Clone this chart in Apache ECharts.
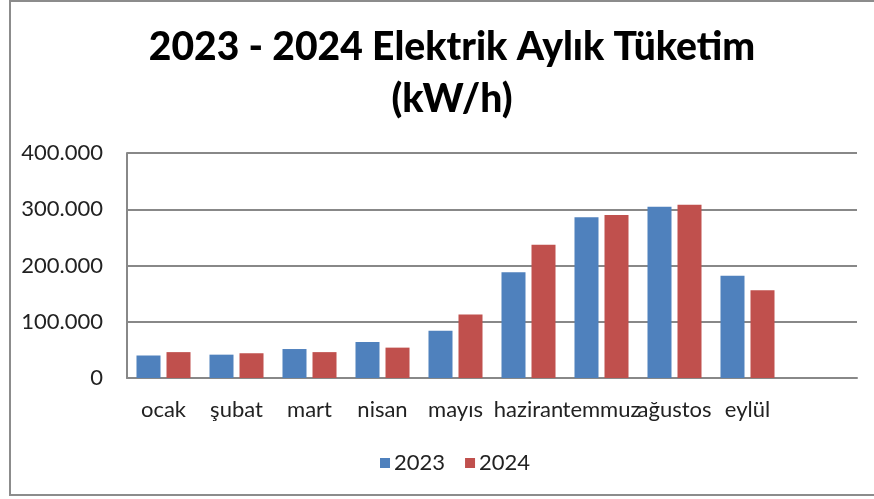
<!DOCTYPE html>
<html>
<head>
<meta charset="utf-8">
<script src="https://cdn.jsdelivr.net/npm/echarts@6/dist/echarts.min.js"></script>
<style>html,body{margin:0;padding:0;background:#fff}#c{width:874px;height:499px}</style>
</head>
<body>
<div id="c"></div>
<script>
const categories = ['ocak','şubat','mart','nisan','mayıs','haziran','temmuz','ağustos','eylül',''];
const values2023 = [40000, 41500, 51500, 64000, 84000, 188000, 286000, 304500, 182000, null];
const values2024 = [46000, 44000, 46000, 54000, 113000, 237000, 290000, 308000, 156000, null];
const seriesNames = ['2023','2024'];
const titleLines = ['2023 - 2024 Elektrik Aylık Tüketim','(kW/h)'];

const FONT = 'Lato';
const chart = echarts.init(document.getElementById('c'), null, {renderer:'canvas'});
function fmt(v){ return String(v).replace(/\B(?=(\d{3})+(?!\d))/g,'.'); }
chart.setOption({
  animation:false,
  backgroundColor:'#fff',
  title:{
    text:titleLines.join('\n'),
    left:447, top:16, textAlign:'center',
    textStyle:{fontFamily:FONT,fontWeight:900,fontSize:39,lineHeight:52,color:'#000'}
  },
  legend:{
    data:seriesNames, top:447, left:375,
    itemWidth:10, itemHeight:10, itemGap:20, icon:'rect',
    textStyle:{fontFamily:FONT,fontSize:22,color:'#222',padding:[0,0,0,-1]}
  },
  grid:{left:127,right:17,top:153,bottom:121,containLabel:false},
  xAxis:{
    type:'category', data:categories,
    axisLine:{lineStyle:{color:'#888',width:2}},
    axisTick:{show:false},
    axisLabel:{interval:0,fontFamily:FONT,fontSize:22,color:'#222',margin:21}
  },
  yAxis:{
    type:'value', min:0, max:400000, interval:100000,
    axisLine:{show:true,lineStyle:{color:'#888',width:2}},
    axisTick:{show:false},
    splitLine:{lineStyle:{color:'#888',width:2}},
    axisLabel:{fontFamily:FONT,fontSize:22,color:'#222',margin:24,formatter:fmt}
  },
  series:[
    {name:seriesNames[0],type:'bar',data:values2023,barGap:'25%',barCategoryGap:'26%',itemStyle:{color:'#4F81BD'}},
    {name:seriesNames[1],type:'bar',data:values2024,barGap:'25%',barCategoryGap:'26%',itemStyle:{color:'#C0504D'}}
  ],
  graphic:[{type:'rect',shape:{x:10,y:1,width:880,height:494},style:{fill:null,stroke:'#8c8c8c',lineWidth:2},silent:true}]
});
</script>
</body>
</html>
